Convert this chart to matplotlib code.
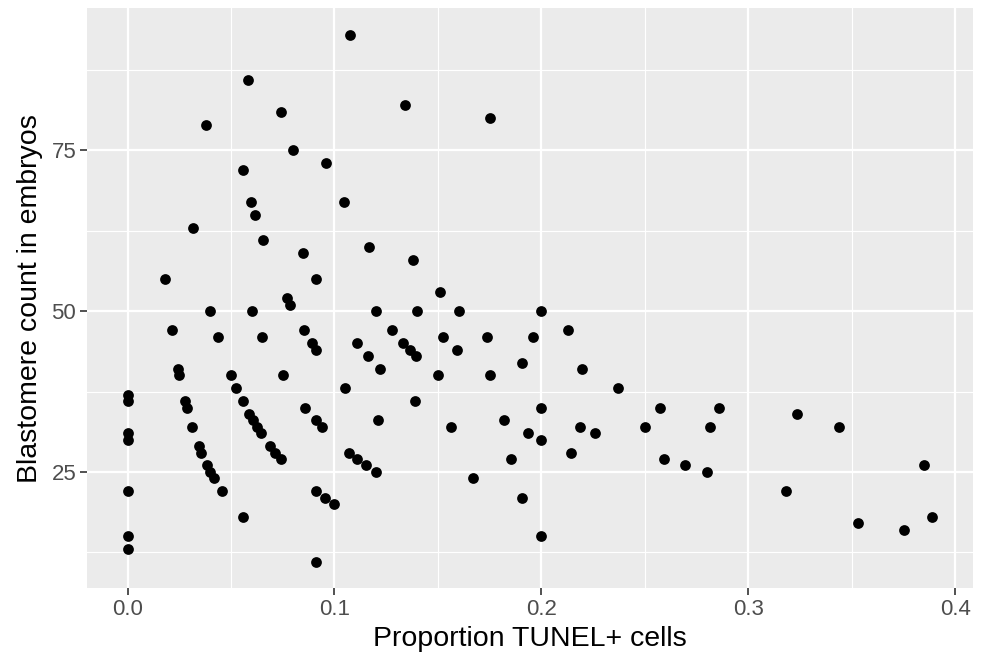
import matplotlib
matplotlib.use("Agg")
import matplotlib.pyplot as plt
import numpy as np

plt.rcParams['font.family'] = ['Liberation Sans', 'DejaVu Sans']

# values
proportion_tunel = [
    0.0, 0.0, 0.0, 0.0, 0.0, 0.0, 0.0,
    0.0182, 0.0213, 0.0244, 0.0250, 0.0278, 0.0286, 0.0313, 0.0345, 0.0357,
    0.0385, 0.0400, 0.0417, 0.0455, 0.0556,
    0.0317, 0.0380, 0.0400, 0.0435,
    0.0500, 0.0526, 0.0556, 0.0588, 0.0606, 0.0625, 0.0645, 0.0690, 0.0714,
    0.0741, 0.0909, 0.0952, 0.1000, 0.0909,
    0.1073, 0.0581, 0.0741, 0.0800, 0.0959, 0.0556, 0.0597, 0.1045, 0.0615,
    0.0656, 0.1167, 0.0847, 0.0909, 0.0769, 0.0784, 0.1341, 0.1750, 0.1379,
    0.1509,
    0.0600, 0.1200, 0.1400, 0.1600, 0.2000,
    0.0851, 0.1277, 0.2128,
    0.0652, 0.1522, 0.1739, 0.1957,
    0.0889, 0.1111, 0.1333,
    0.1364, 0.1591,
    0.1163, 0.1395,
    0.1905,
    0.1220, 0.2195,
    0.0750, 0.1500, 0.1750,
    0.1053, 0.2368,
    0.1389,
    0.0857, 0.2000, 0.2571, 0.2857,
    0.3235,
    0.1212, 0.1818,
    0.0938, 0.1563, 0.2188, 0.2500, 0.2813, 0.3438,
    0.1935, 0.2258,
    0.2000,
    0.1071, 0.2143,
    0.1111, 0.1852, 0.2593,
    0.1154, 0.2692, 0.3846,
    0.1200, 0.2800,
    0.1667,
    0.3182,
    0.1905,
    0.3889,
    0.3529,
    0.3750,
    0.2000,
]

blastomere_count = [
    37, 36, 31, 30, 22, 15, 13,
    55, 47, 41, 40, 36, 35, 32, 29, 28,
    26, 25, 24, 22, 18,
    63, 79, 50, 46,
    40, 38, 36, 34, 33, 32, 31, 29, 28,
    27, 22, 21, 20, 11,
    93, 86, 81, 75, 73, 72, 67, 67, 65,
    61, 60, 59, 55, 52, 51, 82, 80, 58,
    53,
    50, 50, 50, 50, 50,
    47, 47, 47,
    46, 46, 46, 46,
    45, 45, 45,
    44, 44,
    43, 43,
    42,
    41, 41,
    40, 40, 40,
    38, 38,
    36,
    35, 35, 35, 35,
    34,
    33, 33,
    32, 32, 32, 32, 32, 32,
    31, 31,
    30,
    28, 28,
    27, 27, 27,
    26, 26, 26,
    25, 25,
    24,
    22,
    21,
    18,
    17,
    16,
    15,
]

# the 3/33 point sits next to 3/32, add it with the 44 at 0.0909
proportion_tunel += [0.0909, 0.0909]
blastomere_count += [33, 44]

x_ticks = [0.0, 0.1, 0.2, 0.3, 0.4]
x_labels = ["0.0", "0.1", "0.2", "0.3", "0.4"]
y_ticks = [25, 50, 75]
y_labels = ["25", "50", "75"]

X = np.array(proportion_tunel, dtype=np.double)
Y = np.array(blastomere_count, dtype=np.double)

fig = plt.figure(figsize=(9.84, 6.62), dpi=100)
ax = fig.add_axes([0.0887, 0.1113, 0.8998, 0.8762])

ax.set_facecolor('#EBEBEB')
for s in ax.spines.values():
    s.set_visible(False)

# ggplot style 5% expansion
xr = X.max() - X.min()
yr = Y.max() - Y.min()
ax.set_xlim(X.min() - 0.05 * xr, X.max() + 0.05 * xr)
ax.set_ylim(Y.min() - 0.05 * yr, Y.max() + 0.05 * yr)

ax.set_xticks(x_ticks)
ax.set_xticklabels(x_labels)
ax.set_yticks(y_ticks)
ax.set_yticklabels(y_labels)
ax.set_xticks([0.05, 0.15, 0.25, 0.35], minor=True)
ax.set_yticks([12.5, 37.5, 62.5, 87.5], minor=True)

ax.grid(True, which='major', color='white', linewidth=1.6)
ax.grid(True, which='minor', color='white', linewidth=0.8)
ax.set_axisbelow(True)

ax.tick_params(axis='both', which='major', length=5, width=1.2, color='#333333',
               labelcolor='#4D4D4D', labelsize=16, pad=3)
ax.tick_params(axis='both', which='minor', length=0)

ax.scatter(X, Y, s=60, color='black', linewidths=0, zorder=3)

ax.set_xlabel("Proportion TUNEL+ cells", fontsize=20.5, color='black', labelpad=4)
ax.set_ylabel("Blastomere count in embryos", fontsize=20.5, color='black', labelpad=6)

plt.savefig("out.png", dpi=100)
plt.close()
